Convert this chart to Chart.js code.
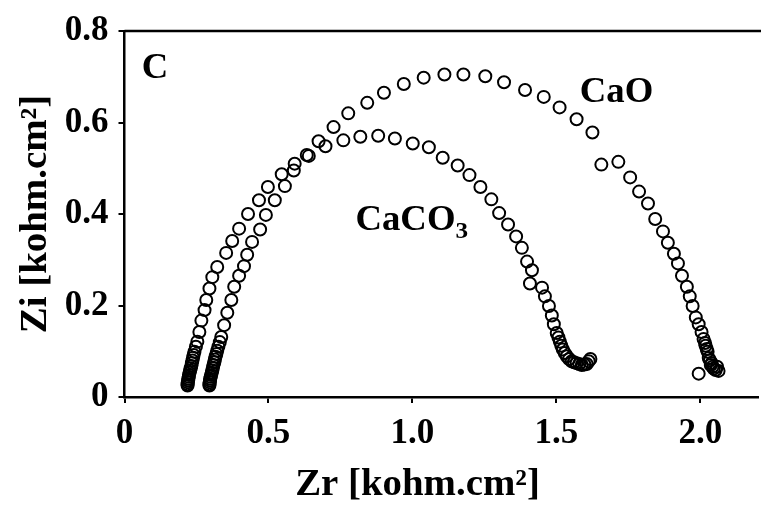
<!DOCTYPE html>
<html lang="en">
<head>
    <title>Nyquist plot - CaO / CaCO3</title>
    <meta charset="utf-8">
    <script src="https://cdn.jsdelivr.net/npm/chart.js"></script>
    <style>
        body { margin: 0; background: #fff; }
        #wrap { width: 766px; height: 507px; }
    </style>
</head>
<body>
    <div id="wrap">
        <canvas id="nyquistChart" width="766" height="507"></canvas>
    </div>

    <script>
        // Impedance spectra, Zr / Zi in kohm.cm2
        var caoZr = [0.219, 0.219, 0.220, 0.221, 0.222, 0.223, 0.224, 0.226, 0.228, 0.230, 0.232, 0.234, 0.236, 0.238,
            0.240, 0.243, 0.248, 0.253, 0.260, 0.267, 0.278, 0.284,
            0.295, 0.305, 0.322, 0.353, 0.374, 0.398, 0.429, 0.467, 0.498, 0.546, 0.591, 0.633, 0.674, 0.726,
            0.777, 0.843, 0.901, 0.970, 1.039, 1.111, 1.177, 1.253, 1.318, 1.391, 1.456, 1.511, 1.570, 1.625,
            1.656, 1.715, 1.756, 1.787, 1.818, 1.843, 1.870, 1.887, 1.908, 1.922, 1.936, 1.953, 1.963, 1.973,
            1.984, 1.994, 2.004, 2.011, 2.016, 2.018, 2.022, 2.025, 2.029, 2.033, 2.039, 2.042, 2.046, 2.053,
            2.063, 2.058, 2.036, 1.994];
        var caoZi = [0.025, 0.028, 0.032, 0.036, 0.040, 0.044, 0.048, 0.053, 0.058, 0.063, 0.068, 0.074, 0.080, 0.086,
            0.092, 0.099, 0.110, 0.121, 0.142, 0.167, 0.190, 0.212,
            0.237, 0.262, 0.284, 0.315, 0.341, 0.368, 0.400, 0.430, 0.459, 0.487, 0.510, 0.529, 0.559, 0.590,
            0.620, 0.643, 0.665, 0.684, 0.698, 0.705, 0.705, 0.701, 0.688, 0.671, 0.656, 0.633, 0.607, 0.578,
            0.508, 0.514, 0.480, 0.449, 0.423, 0.389, 0.362, 0.337, 0.313, 0.292, 0.265, 0.241, 0.220, 0.199,
            0.174, 0.159, 0.142, 0.127, 0.118, 0.112, 0.105, 0.099, 0.085, 0.080, 0.074, 0.066, 0.062, 0.059,
            0.057, 0.066, 0.070, 0.051];

        var caco3Zr = [0.295, 0.295, 0.296, 0.297, 0.298, 0.299, 0.301, 0.303, 0.305, 0.307, 0.309, 0.312, 0.314, 0.316,
            0.319, 0.322, 0.326, 0.331, 0.336, 0.346, 0.357, 0.371,
            0.381, 0.398, 0.415, 0.426, 0.443, 0.471, 0.491, 0.522, 0.557, 0.588, 0.640, 0.698, 0.760, 0.819,
            0.881, 0.939, 1.001, 1.057, 1.105, 1.157, 1.198, 1.236, 1.274, 1.301, 1.332, 1.360, 1.380, 1.398,
            1.415, 1.408, 1.450, 1.460, 1.474, 1.484, 1.491, 1.501, 1.507, 1.512, 1.517, 1.522, 1.529, 1.536,
            1.544, 1.553, 1.561, 1.570, 1.579, 1.588, 1.597, 1.605, 1.612, 1.618];
        var caco3Zi = [0.025, 0.028, 0.032, 0.036, 0.040, 0.044, 0.048, 0.053, 0.058, 0.064, 0.070, 0.076, 0.082, 0.088,
            0.094, 0.101, 0.110, 0.120, 0.131, 0.157, 0.184, 0.212,
            0.241, 0.265, 0.286, 0.311, 0.339, 0.366, 0.398, 0.430, 0.461, 0.495, 0.527, 0.548, 0.561, 0.569,
            0.571, 0.565, 0.554, 0.546, 0.523, 0.506, 0.485, 0.459, 0.432, 0.402, 0.377, 0.351, 0.326, 0.296,
            0.277, 0.248, 0.239, 0.220, 0.199, 0.178, 0.159, 0.140, 0.130, 0.121, 0.112, 0.104, 0.096, 0.089,
            0.083, 0.078, 0.076, 0.074, 0.072, 0.070, 0.071, 0.072, 0.078, 0.083];

        var xTicks = [0, 0.5, 1.0, 1.5, 2.0];
        var yTicks = [0, 0.2, 0.4, 0.6, 0.8];

        var serif = "'Liberation Serif', 'Times New Roman', serif";
        var stretch = 1.05;

        function toPoints(xs, ys) {
            return xs.map(function (x, i) { return { x: x, y: ys[i] }; });
        }

        function fmt(v) {
            return v === 0 ? '0' : v.toFixed(1);
        }

        // text drawn slightly wider than the plain font
        function wideText(ctx, text, x, y) {
            ctx.save();
            ctx.translate(x, y);
            ctx.scale(stretch, 1);
            ctx.fillText(text, 0, 0);
            ctx.restore();
        }

        // frame line on top, axis titles and curve labels
        var decorations = {
            id: 'decorations',
            afterDraw: function (chart) {
                var ctx = chart.ctx;
                var area = chart.chartArea;
                var xs = chart.scales.x, ys = chart.scales.y;
                ctx.save();
                ctx.strokeStyle = '#000';
                ctx.lineWidth = 2.5;
                ctx.beginPath();
                ctx.moveTo(area.left, area.top);
                ctx.lineTo(area.right + 3, area.top);
                ctx.stroke();

                ctx.fillStyle = '#000';
                ctx.textBaseline = 'alphabetic';
                ctx.textAlign = 'left';
                ctx.font = 'bold 35px ' + serif;
                wideText(ctx, 'C', xs.getPixelForValue(0.060), ys.getPixelForValue(0.698));
                wideText(ctx, 'CaO', xs.getPixelForValue(1.581), ys.getPixelForValue(0.645));
                var cx = xs.getPixelForValue(0.802), cy = ys.getPixelForValue(0.364);
                wideText(ctx, 'CaCO', cx, cy);
                var w = ctx.measureText('CaCO').width * stretch;
                ctx.font = 'bold 24px ' + serif;
                wideText(ctx, '3', cx + w, cy + 8);

                ctx.font = 'bold 37px ' + serif;
                ctx.textAlign = 'center';
                wideText(ctx, 'Zr [kohm.cm\u00b2]', area.left + 293, chart.height - 12);

                ctx.translate(46, (area.top + area.bottom) / 2);
                ctx.rotate(-Math.PI / 2);
                wideText(ctx, 'Zi [kohm.cm\u00b2]', 0, 0);
                ctx.restore();
            }
        };

        var markerStyle = {
            showLine: false,
            pointStyle: 'circle',
            pointRadius: 6,
            pointBorderWidth: 2,
            pointBorderColor: '#000',
            pointBackgroundColor: 'rgba(0,0,0,0)'
        };

        var ctx = document.getElementById('nyquistChart').getContext('2d');
        var nyquistChart = new Chart(ctx, {
            type: 'scatter',
            data: {
                datasets: [
                    Object.assign({ label: 'CaO', data: toPoints(caoZr, caoZi) }, markerStyle),
                    Object.assign({ label: 'CaCO3', data: toPoints(caco3Zr, caco3Zi) }, markerStyle)
                ]
            },
            options: {
                responsive: false,
                animation: false,
                layout: { padding: { top: 19, right: 3, left: 0, bottom: 0 } },
                plugins: {
                    legend: { display: false },
                    tooltip: { enabled: false }
                },
                scales: {
                    x: {
                        type: 'linear',
                        min: 0,
                        max: 2.2,
                        afterBuildTicks: function (scale) {
                            scale.ticks = xTicks.map(function (v) { return { value: v }; });
                        },
                        afterFit: function (scale) { scale.height = 110; },
                        grid: {
                            drawOnChartArea: false,
                            drawTicks: true,
                            tickLength: 6,
                            color: '#000',
                            lineWidth: 2
                        },
                        border: { display: true, color: '#000', width: 2.5 },
                        ticks: {
                            color: '#000',
                            padding: 10,
                            maxRotation: 0,
                            font: { family: serif, size: 35, weight: 'bold' },
                            callback: function (v) { return fmt(v); }
                        }
                    },
                    y: {
                        type: 'linear',
                        min: 0,
                        max: 0.8,
                        afterBuildTicks: function (scale) {
                            scale.ticks = yTicks.map(function (v) { return { value: v }; });
                        },
                        afterFit: function (scale) { scale.width = 124.5; },
                        grid: {
                            drawOnChartArea: false,
                            drawTicks: true,
                            tickLength: 6,
                            color: '#000',
                            lineWidth: 2
                        },
                        border: { display: true, color: '#000', width: 2.5 },
                        ticks: {
                            color: '#000',
                            padding: 10,
                            font: { family: serif, size: 35, weight: 'bold' },
                            callback: function (v) { return fmt(v); }
                        }
                    }
                }
            },
            plugins: [decorations]
        });
    </script>
</body>
</html>
